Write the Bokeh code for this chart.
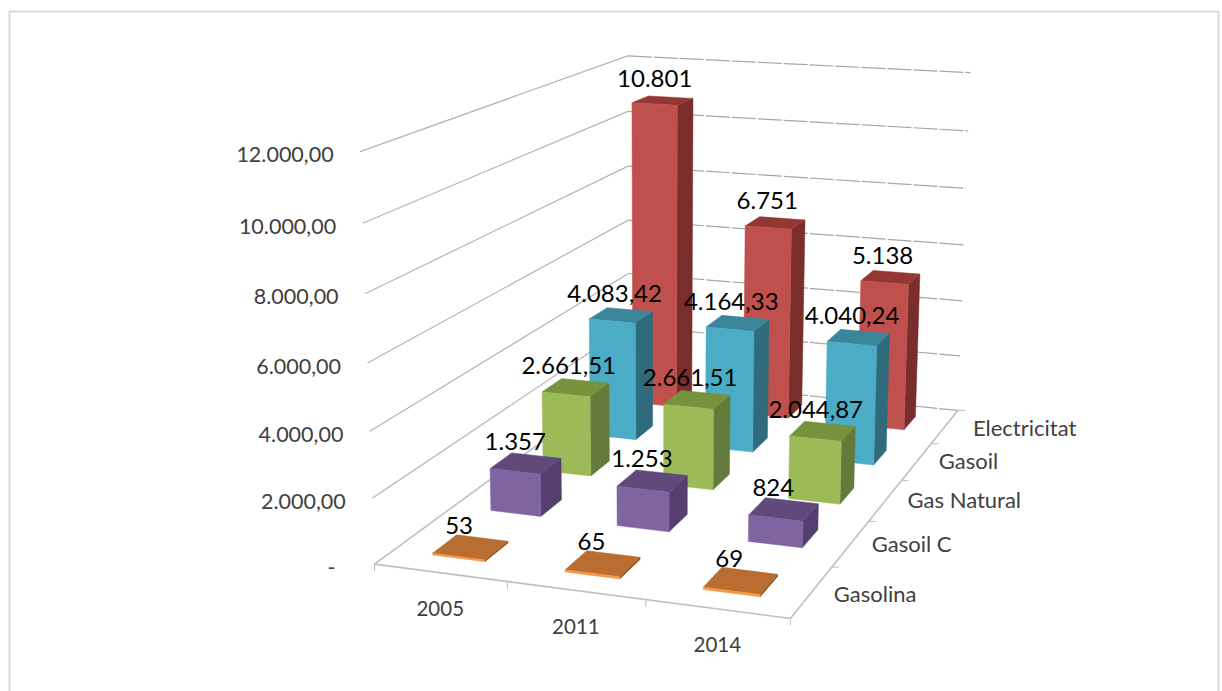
import numpy as np
from bokeh.plotting import figure
from bokeh.models import Range1d, ColumnDataSource
from bokeh.core.properties import value
from bokeh.embed import file_html
from bokeh.resources import INLINE

# ---- data ----
years = ["2005", "2011", "2014"]
series = ["Gasolina", "Gasoil C", "Gas Natural", "Gasoil", "Electricitat"]
gasolina = [53, 65, 69]
gasoil_c = [1357, 1253, 824]
gas_natural = [2661.51, 2661.51, 2044.87]
gasoil = [4083.42, 4164.33, 4040.24]
electricitat = [10801, 6751, 5138]
gasolina_labels = ["53", "65", "69"]
gasoil_c_labels = ["1.357", "1.253", "824"]
gas_natural_labels = ["2.661,51", "2.661,51", "2.044,87"]
gasoil_labels = ["4.083,42", "4.164,33", "4.040,24"]
electricitat_labels = ["10.801", "6.751", "5.138"]
value_ticks = [0, 2000, 4000, 6000, 8000, 10000, 12000]
value_tick_labels = ["-", "2.000,00", "4.000,00", "6.000,00", "8.000,00", "10.000,00", "12.000,00"]

# ---- styles ----
rows = [
    (gasolina, gasolina_labels, "#F79646", "#B96D31", "#8A5220"),
    (gasoil_c, gasoil_c_labels, "#8064A2", "#604A7B", "#553F70"),
    (gas_natural, gas_natural_labels, "#9BBB59", "#76923C", "#647A3A"),
    (gasoil, gasoil_labels, "#4BACC6", "#3A8599", "#2F6B7C"),
    (electricitat, electricitat_labels, "#C0504D", "#943634", "#7A2E2C"),
]
FONT = "Lato"
WALL = "#B4B4B4"
FLOOR = "#BFBFBF"
TEXT = "#404040"
SERIES_DX = [22, 21, 22, 22, 28]
SERIES_DY = [2, 0, -1, -1, 1]
DATA_DX = [-11.5, -10.5, -7, -6.5, -8]

# ---- camera: fitted from where the chart box's corners sit on the page ----
U, V, W = len(years), len(series), max(value_ticks)
front_left = [(375, 562.7), (371.7, 496.7), (369.3, 430), (366.7, 362.3), (364, 293.3), (362, 223.3), (359.5, 151.7)]
back_left = [(628, 380), (628, 326), (627.5, 272.3), (628.3, 219), (628.3, 165), (627.3, 111), (627.3, 55.3)]
back_right = [(956.7, 409.3), (960, 355), (961.7, 300), (963.3, 244.3), (965.7, 187.7), (967.7, 130.7), (970, 72.7)]
front_edge = [(506.7, 581.5), (645, 600), (790.7, 618.3)]

world, screen = [], []
for k, t in enumerate(value_ticks):
    world += [(0, 0, t), (0, V, t), (U, V, t)]
    screen += [front_left[k], back_left[k], back_right[k]]
for k, pt in enumerate(front_edge):
    world.append((k + 1, 0, 0))
    screen.append(pt)

A = []
for (a, b, c), (x, y) in zip(world, screen):
    X = [a / U, b / V, c / W, 1]
    A.append(X + [0, 0, 0, 0] + [-x * q for q in X])
    A.append([0, 0, 0, 0] + X + [-y * q for q in X])
scale = np.array([1, 1, 1, 1, 1, 1, 1, 1, 1e-3, 1e-3, 1e-3, 1e-3])
_, _, vt = np.linalg.svd(np.array(A) / scale)
M = (vt[-1] / scale).reshape(3, 4)


def project(a, b, c):
    h = M @ np.array([a / U, b / V, c / W, 1.0])
    return float(h[0] / h[2]), float(h[1] / h[2])


def poly(points):
    pts = [project(*q) for q in points]
    return [q[0] for q in pts], [q[1] for q in pts]


p = figure(width=1222, height=691, x_range=Range1d(0, 1222), y_range=Range1d(691, 0),
           toolbar_location=None, output_backend="svg", min_border=0,
           x_axis_type=None, y_axis_type=None, outline_line_color=None,
           background_fill_color="white", border_fill_color="white")
p.grid.visible = False

# outer frame of the chart
p.line([9, 9, 1218, 1218], [691, 11, 11, 691], line_color="#D9D9D9", line_width=2)

# walls
for t in value_ticks[1:]:
    xs, ys = poly([(0, 0, t), (0, V, t)])
    p.line(xs, ys, line_color=WALL, line_width=1.2)
for t in value_ticks:
    xs, ys = poly([(0, V, t), (U, V, t)])
    p.line(xs, ys, line_color="#A6A6A6", line_width=1.2, line_dash="24 2")

# floor edges and ticks
for a, b in [((0, 0, 0), (0, V, 0)), ((0, 0, 0), (U, 0, 0)), ((U, 0, 0), (U, V, 0))]:
    xs, ys = poly([a, b])
    p.line(xs, ys, line_color=FLOOR, line_width=1.6)
for i in range(U + 1):
    x, y = project(i, 0, 0)
    p.line([x, x], [y, y + 7], line_color=FLOOR, line_width=1)
for j in range(1, V + 1):
    x, y = project(U, j, 0)
    p.line([x, x + 7], [y, y], line_color=FLOOR, line_width=1)

# bars, back row first so nearer rows paint over
GAP = 0.3
for j in reversed(range(V)):
    vals, _, front, top, side = rows[j]
    xs, ys, cols = [], [], []
    for i, val in enumerate(vals):
        a0, a1, b0, b1 = i + GAP, i + 1 - GAP, j + GAP, j + 1 - GAP
        for q, col in [
            ([(a1, b0, 0), (a1, b1, 0), (a1, b1, val), (a1, b0, val)], side),
            ([(a0, b0, val), (a1, b0, val), (a1, b1, val), (a0, b1, val)], top),
            ([(a0, b0, 0), (a1, b0, 0), (a1, b0, val), (a0, b0, val)], front),
        ]:
            x, y = poly(q)
            xs.append(x); ys.append(y); cols.append(col)
    p.patches("xs", "ys", source=ColumnDataSource(dict(xs=xs, ys=ys, c=cols)),
              fill_color="c", line_color="c", line_width=0.5)

# value axis labels
tx, ty, ta = [], [], []
for t, lab in zip(value_ticks, value_tick_labels):
    x, y = project(0, 0, t)
    tx.append(x - (39 if t == 0 else 26.5)); ty.append(y + 3); ta.append(lab)
p.text(tx, ty, text=ta, text_font=value(FONT), text_font_size="21.5px", text_color=TEXT,
       text_align="right", text_baseline="middle")

# year labels
tx, ty = [], []
for i in range(U):
    x, y = project(i + 0.5, 0, 0)
    tx.append(x); ty.append(y + 36)
p.text(tx, ty, text=years, text_font=value(FONT), text_font_size="20.5px", text_color=TEXT,
       text_align="center", text_baseline="middle")

# series labels
tx, ty = [], []
for j in range(V):
    x, y = project(U, j + 0.5, 0)
    tx.append(x + SERIES_DX[j]); ty.append(y + SERIES_DY[j])
p.text(tx, ty, text=series, text_font=value(FONT), text_font_size="22px", text_color=TEXT,
       text_align="left", text_baseline="middle")

# data labels, on top of everything
tx, ty, ta = [], [], []
for j in reversed(range(V)):
    vals, labs, *_ = rows[j]
    for i, (val, lab) in enumerate(zip(vals, labs)):
        x, y = project(i + 0.5, j + 0.5, val)
        tx.append(x + DATA_DX[j]); ty.append(y - 22); ta.append(lab)
p.text(tx, ty, text=ta, text_font=value(FONT), text_font_size="24px", text_color="#000000",
       text_align="center", text_baseline="middle")

open("out.html", "w").write(file_html(p, INLINE))
